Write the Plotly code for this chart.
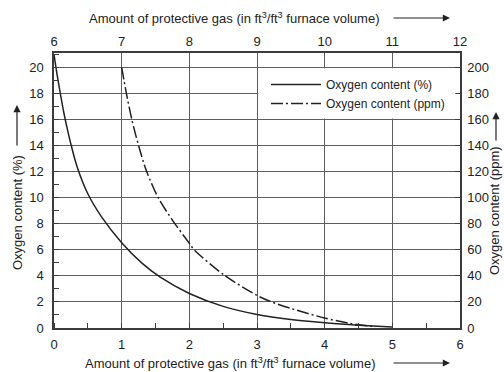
import plotly.graph_objects as go

# ---- data ----
pct_x = [0, 0.05, 0.1, 0.15, 0.2, 0.25, 0.34, 0.5, 0.7, 1.0, 1.3, 1.57, 2.0, 2.5, 3.0, 3.5, 4.0, 4.5, 5.0]
pct_y = [21, 19.3, 17.8, 16.4, 15.2, 14.1, 12.4, 10.3, 8.55, 6.55, 4.98, 3.9, 2.65, 1.66, 1.04, 0.65, 0.4, 0.22, 0.07]

ppm_x = [1.0, 1.07, 1.15, 1.25, 1.37, 1.54, 1.76, 2.0, 2.07, 2.53, 3.0, 3.19, 3.5, 4.0, 4.38, 4.75]
ppm_y = [200, 180, 160, 140, 120, 100, 82, 65, 60, 40, 25, 20.5, 15, 7.6, 3.5, 1.0]

bottom_ticks = [0, 1, 2, 3, 4, 5, 6]
top_ticks = [6, 7, 8, 9, 10, 11, 12]
left_ticks = [0, 2, 4, 6, 8, 10, 12, 14, 16, 18, 20]
right_ticks = [0, 20, 40, 60, 80, 100, 120, 140, 160, 180, 200]

x_title = "Amount of protective gas (in ft<sup>3</sup>/ft<sup>3</sup> furnace volume)"
left_title = "Oxygen content (%)"
right_title = "Oxygen content (ppm)"
names = ["Oxygen content (%)", "Oxygen content (ppm)"]

# ---- geometry ----
W, H = 504, 372
ML, MR, MT, MB = 54, 44, 53, 44
PW, PH = W - ML - MR, H - MT - MB
YMAX = 21.1


def px(xp):
    return (xp - ML) / PW


def py(yp):
    return (H - MB - yp) / PH


FONT = "Liberation Sans, Arial, Helvetica, sans-serif"
INK = "#222222"
GRID = "#5e5e5e"
FRAME = "#3c3c3c"

fig = go.Figure()
fig.add_trace(go.Scatter(x=pct_x, y=pct_y, mode="lines", name=names[0],
                         line=dict(color=INK, width=1.5, shape="spline", smoothing=1),
                         xaxis="x", yaxis="y"))
fig.add_trace(go.Scatter(x=ppm_x, y=ppm_y, mode="lines", name=names[1],
                         line=dict(color=INK, width=1.5, dash="12px,3px,2px,3px",
                                   shape="spline", smoothing=0.8),
                         xaxis="x", yaxis="y2"))
# invisible trace to anchor the top axis
fig.add_trace(go.Scatter(x=[top_ticks[0]], y=[0], mode="markers", opacity=0,
                         showlegend=False, hoverinfo="skip", xaxis="x2", yaxis="y"))

tickfont = dict(family=FONT, size=13, color=INK)

fig.update_layout(
    width=W, height=H,
    margin=dict(l=ML, r=MR, t=MT, b=MB, pad=0),
    paper_bgcolor="white", plot_bgcolor="white",
    font=dict(family=FONT, color=INK, size=13),
    showlegend=True,
    legend=dict(x=px(266), y=py(70), xanchor="left", yanchor="top",
                bgcolor="white", borderwidth=0, itemwidth=50,
                font=dict(family=FONT, size=12, color=INK), tracegroupgap=0),
    xaxis=dict(range=[0, 6], tickvals=bottom_ticks, showgrid=True, gridcolor=GRID, gridwidth=1,
               zeroline=False, showline=True, linecolor=FRAME, linewidth=1.5, mirror=False,
               ticks="", tickfont=tickfont, ticklabelstandoff=4,
               minor=dict(dtick=0.5, ticks="inside", ticklen=5, tickcolor=FRAME, tickwidth=1, showgrid=False)),
    xaxis2=dict(range=[6, 12], tickvals=top_ticks, overlaying="x", side="top", anchor="y",
                showgrid=False, zeroline=False, showline=True, linecolor=FRAME, linewidth=1.5,
                ticks="", tickfont=tickfont, ticklabelstandoff=0),
    yaxis=dict(range=[0, YMAX], tickvals=left_ticks, showgrid=True, gridcolor=GRID, gridwidth=1,
               zeroline=False, showline=True, linecolor=FRAME, linewidth=1.5,
               ticks="", tickfont=tickfont, ticklabelstandoff=6,
               minor=dict(dtick=1, ticks="inside", ticklen=5, tickcolor=FRAME, tickwidth=1, showgrid=False)),
    yaxis2=dict(range=[0, YMAX * 10], tickvals=right_ticks, overlaying="y", side="right", anchor="x",
                showgrid=False, zeroline=False, showline=True, linecolor=FRAME, linewidth=1.5,
                ticks="inside", ticklen=5, tickcolor=FRAME, tickwidth=1,
                tickfont=tickfont, ticklabelstandoff=3),
)

# white legend panel covering gridlines
fig.add_shape(type="rect", xref="x", yref="y", x0=3.02, x1=5.93, y0=16.07, y1=19.93,
              fillcolor="white", line=dict(width=0), layer="above")

tfont = dict(family=FONT, size=13, color=INK)
ann = []
ann.append(dict(text=x_title, xref="paper", yref="paper", x=px(234), y=py(18),
                xanchor="center", yanchor="middle", showarrow=False, font=tfont))
ann.append(dict(text=x_title, xref="paper", yref="paper", x=px(230), y=py(363),
                xanchor="center", yanchor="middle", showarrow=False, font=tfont))
for yy in (18, 363):
    ann.append(dict(text="", xref="paper", yref="paper", x=px(450), y=py(yy),
                    ax=-58, ay=0, showarrow=True, arrowhead=2, arrowsize=1.2,
                    arrowwidth=1.2, arrowcolor=INK))
ann.append(dict(text=left_title, xref="paper", yref="paper", x=px(17), y=py(213),
                xanchor="center", yanchor="middle", textangle=-90, showarrow=False, font=tfont))
ann.append(dict(text="", xref="paper", yref="paper", x=px(17), y=py(105),
                ax=0, ay=42, showarrow=True, arrowhead=2, arrowsize=1.2,
                arrowwidth=1.2, arrowcolor=INK))
ann.append(dict(text=right_title, xref="paper", yref="paper", x=px(495), y=py(211),
                xanchor="center", yanchor="middle", textangle=-90, showarrow=False, font=tfont))
ann.append(dict(text="", xref="paper", yref="paper", x=px(496), y=py(112),
                ax=0, ay=30, showarrow=True, arrowhead=2, arrowsize=1.2,
                arrowwidth=1.2, arrowcolor=INK))
fig.update_layout(annotations=ann)

fig.write_html("out.html")
